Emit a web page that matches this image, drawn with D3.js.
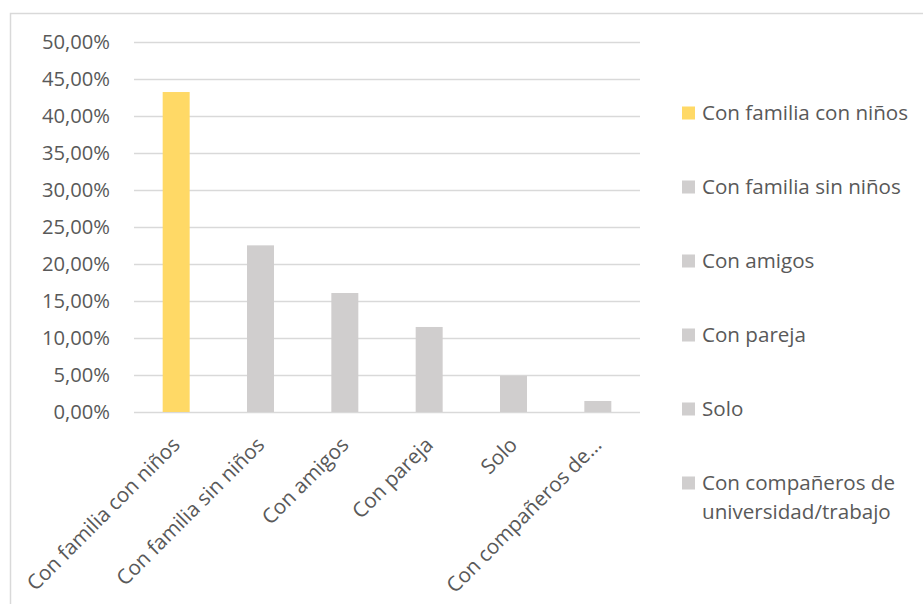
<!DOCTYPE html>
<html>
<head>
<meta charset="utf-8">
<script src="https://cdn.jsdelivr.net/npm/d3@7"></script>
<style>
  html, body { margin: 0; padding: 0; background: #fff; }
  svg text { font-family: "Open Sans", "Noto Sans", sans-serif; fill: #595959; }
</style>
</head>
<body>
<svg id="chart" width="923" height="604"></svg>
<script>
// Categories and their shares
const categories = [
  "Con familia con niños",
  "Con familia sin niños",
  "Con amigos",
  "Con pareja",
  "Solo",
  "Con compañeros de universidad/trabajo"
];
const axisLabels = [
  "Con familia con niños",
  "Con familia sin niños",
  "Con amigos",
  "Con pareja",
  "Solo",
  "Con compañeros de..."
];
const values = [0.4324, 0.2252, 0.1608, 0.1149, 0.0490, 0.0149];
const yTicks = [0, 0.05, 0.10, 0.15, 0.20, 0.25, 0.30, 0.35, 0.40, 0.45, 0.50];
const legendLines = [
  ["Con familia con niños"],
  ["Con familia sin niños"],
  ["Con amigos"],
  ["Con pareja"],
  ["Solo"],
  ["Con compañeros de", "universidad/trabajo"]
];
const colors = ["#FFD966", "#D0CECE", "#D0CECE", "#D0CECE", "#D0CECE", "#D0CECE"];

const svg = d3.select("#chart");

// Chart frame
svg.append("rect")
  .attr("x", 10.5).attr("y", 13.5)
  .attr("width", 930).attr("height", 620)
  .attr("fill", "none").attr("stroke", "#d9d9d9").attr("stroke-width", 1.5);

const plot = { left: 134, right: 640, top: 42, bottom: 412 };

const x = d3.scaleBand()
  .domain(categories)
  .range([plot.left, plot.right])
  .paddingInner(0.68).paddingOuter(0.34);

const y = d3.scaleLinear()
  .domain([0, 0.5])
  .range([plot.bottom, plot.top]);

const fmt = v => d3.format(".2f")(v * 100).replace(".", ",") + "%";

// Gridlines and value labels
const yAxis = d3.axisLeft(y).tickValues(yTicks).tickFormat(fmt)
  .tickSize(-(plot.right - plot.left)).tickPadding(24);
const gy = svg.append("g").attr("transform", `translate(${plot.left},0)`).call(yAxis);
gy.select(".domain").remove();
gy.selectAll(".tick line").attr("stroke", "#d9d9d9").attr("stroke-width", 1.5);
gy.selectAll(".tick text").attr("font-size", 20.2).attr("fill", "#595959");

// Bars
svg.append("g").selectAll("rect")
  .data(values)
  .join("rect")
  .attr("x", (d, i) => x(categories[i]))
  .attr("y", d => y(d))
  .attr("width", x.bandwidth())
  .attr("height", d => y(0) - y(d))
  .attr("fill", (d, i) => colors[i]);

// Category labels, rotated
const xAxis = d3.axisBottom(x).tickSize(0).tickFormat((d, i) => axisLabels[i]);
const gx = svg.append("g").attr("transform", `translate(0,${plot.bottom})`).call(xAxis);
gx.select(".domain").remove();
gx.selectAll(".tick text")
  .attr("font-size", 20.6)
  .attr("text-anchor", "end")
  .attr("dy", 0)
  .attr("transform", "translate(3,32) rotate(-45)");

// Legend
const legend = svg.append("g");
legendLines.forEach((lines, i) => {
  const cy = 113 + i * 74;
  const g = legend.append("g");
  g.append("rect")
    .attr("x", 682).attr("y", cy - 6.5)
    .attr("width", 13).attr("height", 13)
    .attr("fill", colors[i]);
  lines.forEach((t, j) => {
    g.append("text")
      .attr("x", 702).attr("y", cy + j * 29)
      .attr("dy", "0.35em")
      .attr("font-size", 20.6)
      .text(t);
  });
});
</script>
</body>
</html>
